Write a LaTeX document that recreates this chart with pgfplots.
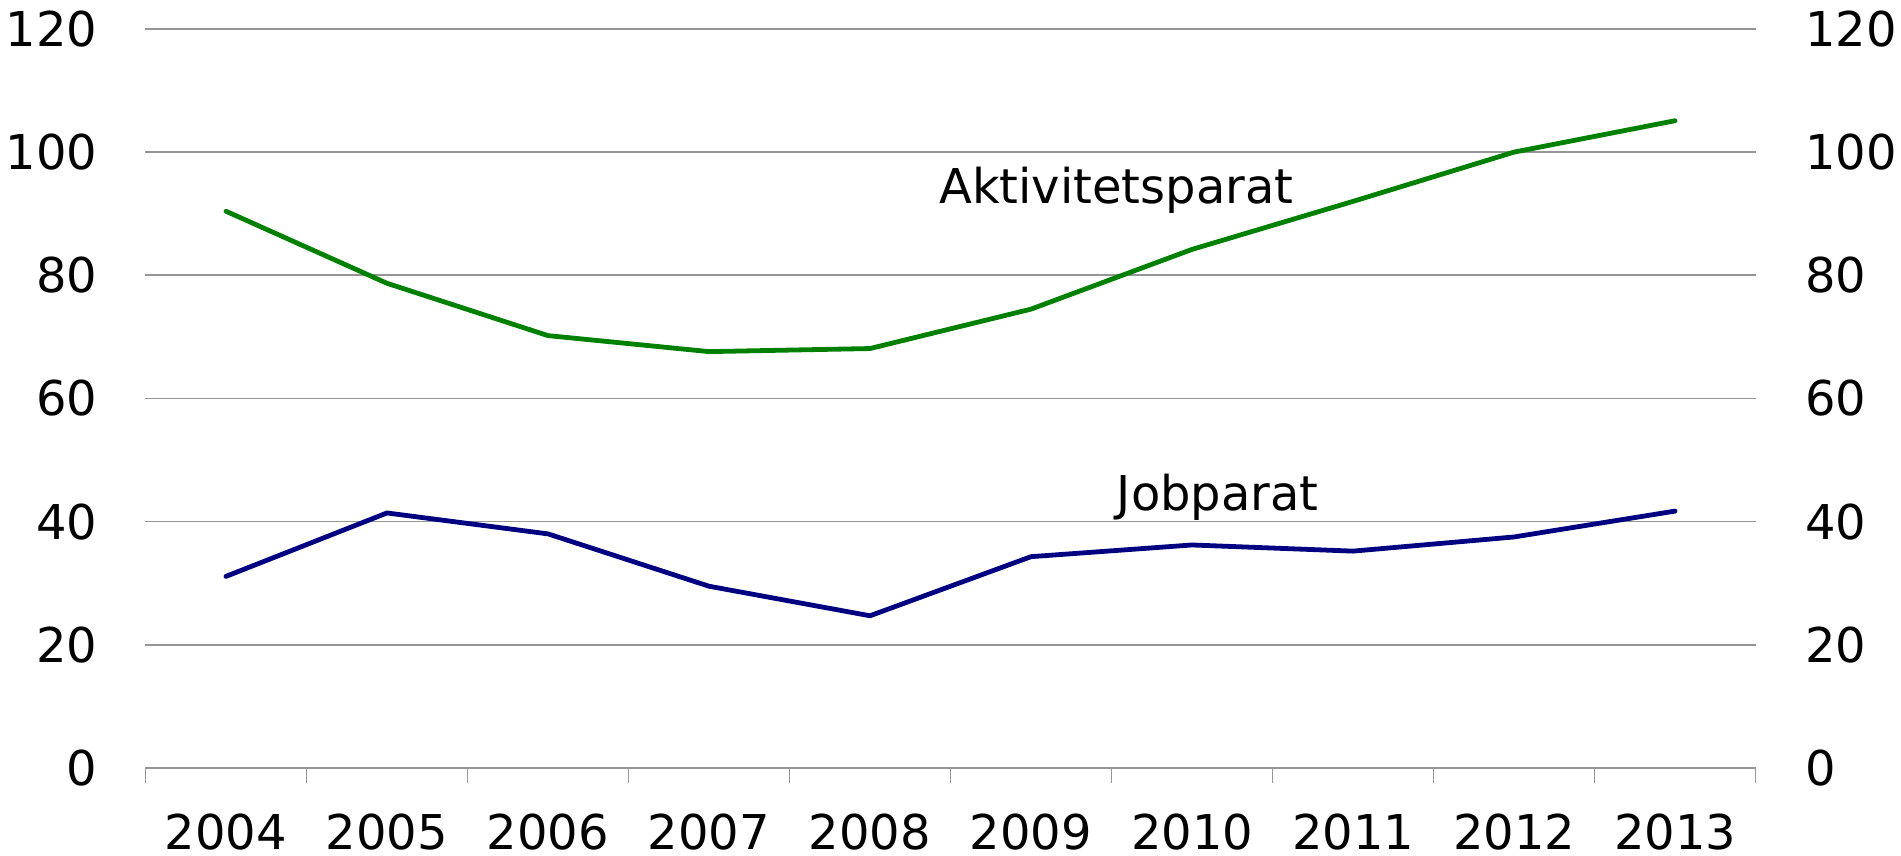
\documentclass[border=0pt]{standalone}
\usepackage{pgfplots}
\pgfplotsset{compat=1.18}
\usepackage{fontspec}
\setmainfont{DejaVu Sans}
\definecolor{gridc}{RGB}{150,150,150}
\definecolor{aktgreen}{RGB}{0,128,0}
\definecolor{jobblue}{RGB}{0,0,128}
\begin{document}
\begin{tikzpicture}
\path[use as bounding box] (-36.4pt,-21.85pt) rectangle (439.3pt,192.15pt);
\begin{axis}[
  name=ax, at={(0,0)}, anchor=south west,
  scale only axis, width=402.9pt, height=184.9pt,
  xmin=0, xmax=10, ymin=0, ymax=120,
  axis line style={draw=none},
  xtick={0.5,1.5,2.5,3.5,4.5,5.5,6.5,7.5,8.5,9.5},
  xticklabels={2004,2005,2006,2007,2008,2009,2010,2011,2012,2013},
  minor xtick={0,1,2,3,4,5,6,7,8,9,10},
  xtick pos=bottom, ytick pos=left, tick align=outside,
  major tick length=0pt, minor tick length=3.8pt,
  minor tick style={draw=gridc, line width=0.4pt},
  major tick style={draw=none},
  ytick={0,20,40,60,80,100,120}, ymajorgrids,
  grid style={draw=gridc, line width=0.4pt},
  tick label style={font=\fontsize{12}{14}\selectfont, inner sep=0pt},
  yticklabel style={xshift=-11.8pt},
  xticklabel style={yshift=-11.4pt},
  /pgf/number format/assume math mode=true,
  clip=false,
]
\addplot[aktgreen, line width=1.2pt, line cap=round, line join=round] coordinates {
  (0.5,90.4) (1.5,78.7) (2.5,70.2) (3.5,67.6) (4.5,68.1)
  (5.5,74.5) (6.5,84.2) (7.5,92.0) (8.5,100.0) (9.5,105.1)};
\addplot[jobblue, line width=1.2pt, line cap=round, line join=round] coordinates {
  (0.5,31.1) (1.5,41.4) (2.5,38.0) (3.5,29.5) (4.5,24.7)
  (5.5,34.3) (6.5,36.2) (7.5,35.2) (8.5,37.5) (9.5,41.7)};
\node[anchor=base, inner sep=0pt, font=\fontsize{12}{14}\selectfont] at (axis cs:6.03,91.6) {Aktivitetsparat};
\node[anchor=base, inner sep=0pt, font=\fontsize{12}{14}\selectfont] at (axis cs:6.66,41.85) {Jobparat};
\end{axis}
\begin{axis}[
  at={(0,0)}, anchor=south west,
  scale only axis, width=402.9pt, height=184.9pt,
  xmin=0, xmax=10, ymin=0, ymax=120,
  axis line style={draw=none},
  hide x axis,
  ytick={0,20,40,60,80,100,120},
  ytick pos=right, yticklabel pos=right,
  major tick length=0pt, major tick style={draw=none},
  tick label style={font=\fontsize{12}{14}\selectfont, inner sep=0pt},
  yticklabel style={xshift=12.2pt},
  /pgf/number format/assume math mode=true,
]
\end{axis}
\end{tikzpicture}
\end{document}
